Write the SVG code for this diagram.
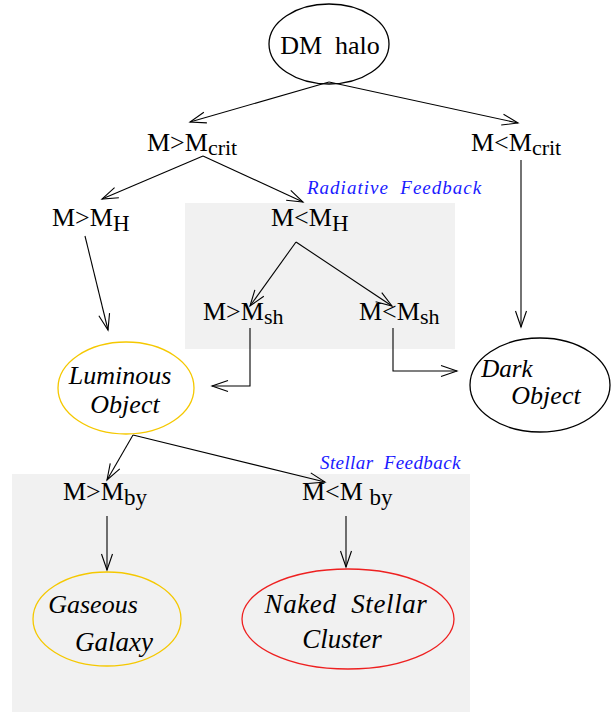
<svg xmlns="http://www.w3.org/2000/svg" width="613" height="712" viewBox="0 0 613 712">
<style>
text{font-family:"Liberation Serif","DejaVu Serif","Times New Roman",serif}
.t{font-size:26px;fill:#000}
.s{font-size:21px}
.sc{font-style:italic;font-size:26px;fill:#000}
.fb{font-style:italic;font-size:19px;fill:#1a1aff;letter-spacing:1px}
.c line,.c polyline{stroke:#000;stroke-width:1.1;fill:none;marker-end:url(#ah)}
.e{fill:none;stroke-width:1.3}
</style>
<defs>
<marker id="ah" markerUnits="userSpaceOnUse" markerWidth="18" markerHeight="12" refX="16" refY="5.5" orient="auto" overflow="visible">
<path d="M0,0 L16,5.5 L0,11" fill="none" stroke="#000" stroke-width="1.1"/>
</marker>
</defs>
<rect width="613" height="712" fill="#fff"/>
<rect x="185" y="203" width="270" height="146" fill="#f1f1f1"/>
<rect x="12" y="474" width="458" height="238" fill="#f1f1f1"/>
<g class="c" id="connectors">
<line x1="329" y1="82" x2="190" y2="122"/>
<line x1="329" y1="82" x2="518" y2="123"/>
<line x1="203" y1="156" x2="102" y2="199"/>
<line x1="203" y1="156" x2="303" y2="202"/>
<line x1="521" y1="160" x2="521" y2="327"/>
<line x1="85" y1="236" x2="108" y2="330"/>
<line x1="296" y1="242" x2="250" y2="306"/>
<line x1="296" y1="242" x2="392" y2="306"/>
<polyline points="250,328 250,386 212,386"/>
<polyline points="393,328 393,371 457,371"/>
<line x1="133" y1="435" x2="107" y2="480"/>
<line x1="133" y1="435" x2="325" y2="482"/>
<line x1="107" y1="516" x2="107" y2="570"/>
<line x1="346" y1="516" x2="346" y2="567"/>
</g>
<g id="dm-halo"><ellipse class="e" cx="329" cy="44" rx="60" ry="40" stroke="#000"/><text class="t" x="330" y="54" text-anchor="middle" xml:space="preserve">DM  halo</text></g>
<g id="m-gt-crit"><text class="t" x="147" y="151">M&gt;M<tspan class="s" dy="4" style="font-size:22px">crit</tspan></text></g>
<g id="m-lt-crit"><text class="t" x="471" y="151">M&lt;M<tspan class="s" dy="4" style="font-size:22px">crit</tspan></text></g>
<g id="radiative-label"><text class="fb" x="307" y="194" xml:space="preserve">Radiative  Feedback</text></g>
<g id="m-gt-h"><text class="t" x="52" y="226">M&gt;M<tspan class="s" dy="5" style="font-size:23px">H</tspan></text></g>
<g id="m-lt-h"><text class="t" x="271" y="226">M&lt;M<tspan class="s" dy="5" style="font-size:23px">H</tspan></text></g>
<g id="m-gt-sh"><text class="t" x="203" y="320">M&gt;M<tspan class="s" dy="4" style="font-size:22px">sh</tspan></text></g>
<g id="m-lt-sh"><text class="t" x="359" y="320">M&lt;M<tspan class="s" dy="4" style="font-size:22px">sh</tspan></text></g>
<g id="luminous"><ellipse class="e" cx="126" cy="388" rx="68" ry="46" stroke="#f5c800"/><text class="sc" x="120" y="384" text-anchor="middle">Luminous</text><text class="sc" x="125" y="413" text-anchor="middle">Object</text></g>
<g id="dark"><ellipse class="e" cx="540" cy="385" rx="70" ry="47" stroke="#000"/><text class="sc" x="507" y="377" text-anchor="middle" style="font-size:25px">Dark</text><text class="sc" x="546" y="404" text-anchor="middle">Object</text></g>
<g id="stellar-label"><text class="fb" x="320" y="469" style="letter-spacing:0.4px" xml:space="preserve">Stellar  Feedback</text></g>
<g id="m-gt-by"><text class="t" x="63" y="500">M&gt;M<tspan class="s" dy="5" style="font-size:23px">by</tspan></text></g>
<g id="m-lt-by"><text class="t" x="302" y="500" xml:space="preserve">M&lt;M <tspan class="s" dy="5" style="font-size:23px">by</tspan></text></g>
<g id="gaseous"><ellipse class="e" cx="107" cy="619" rx="74" ry="47" stroke="#f5c800"/><text class="sc" x="93" y="613" text-anchor="middle">Gaseous</text><text class="sc" x="114" y="651" text-anchor="middle" style="font-size:27px">Galaxy</text></g>
<g id="naked"><ellipse class="e" cx="348" cy="619" rx="106" ry="50" stroke="#ee2020"/><text class="sc" x="346" y="613" text-anchor="middle" style="font-size:27px;letter-spacing:0.6px" xml:space="preserve">Naked  Stellar</text><text class="sc" x="342" y="648" text-anchor="middle" style="font-size:27px">Cluster</text></g>
</svg>
